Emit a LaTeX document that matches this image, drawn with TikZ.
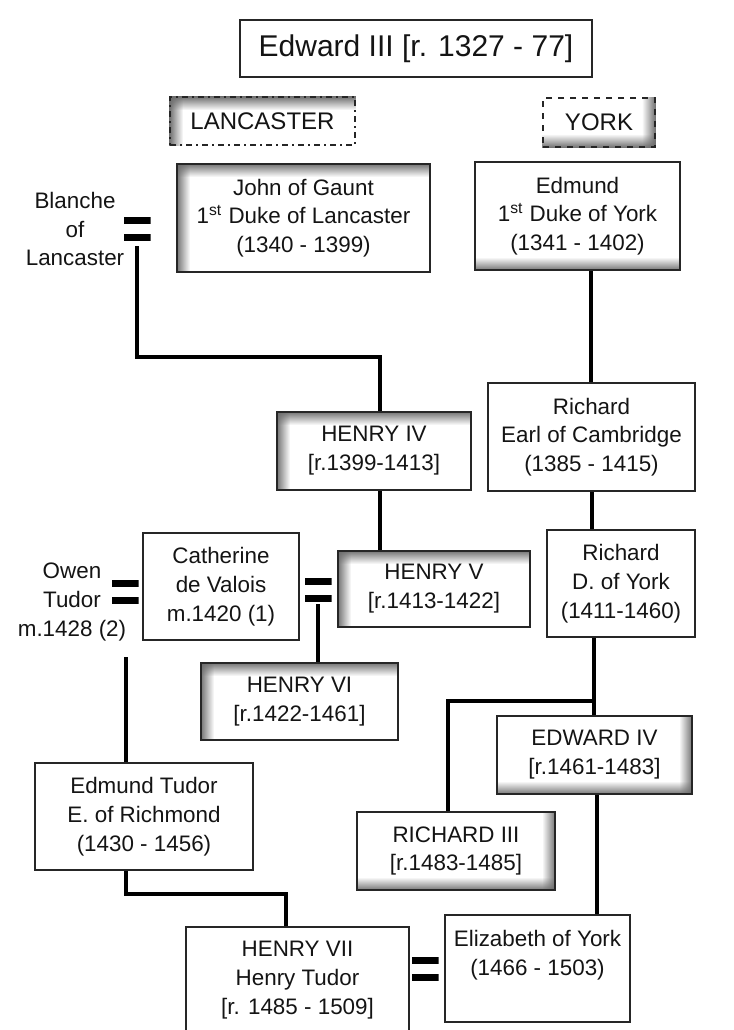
\documentclass[tikz,border=0pt]{standalone}
\usepackage{fontspec}
\setmainfont{Liberation Sans}
\usetikzlibrary{calc,fadings}
\pgfdeclarelayer{bg}
\pgfsetlayers{bg,main}
\definecolor{shd}{gray}{0.42}
\definecolor{txt}{gray}{0.08}
\tikzfading[name=fadeR, left color=transparent!0, right color=transparent!100]
\tikzfading[name=fadeL, right color=transparent!0, left color=transparent!100]
\tikzfading[name=fadeD, top color=transparent!0, bottom color=transparent!100]
\tikzfading[name=fadeU, bottom color=transparent!0, top color=transparent!100]
\tikzset{
  box/.style={draw=black!85, line width=1pt, align=center, inner sep=0pt, text=txt,
    font=\fontsize{11.2}{14.4}\selectfont},
  lbl/.style={align=center, inner sep=0pt, text=txt, font=\fontsize{11.2}{14.4}\selectfont},
  conn/.style={line width=1.75pt, black},
  eqsign/.style={minimum width=13.5pt, minimum height=12pt, inner sep=0pt,
    path picture={
      \fill[black] (path picture bounding box.north west) rectangle ([yshift=-3.5pt]path picture bounding box.north east);
      \fill[black] ([yshift=3.5pt]path picture bounding box.south west) rectangle (path picture bounding box.south east);}}
}
\newcommand\bx[7]{\node[box,#6, minimum width={(#4-#2)*0.5pt}, minimum height={(#5-#3)*0.5pt}] (#1) at ({(#2+#4)/2},{(#3+#5)/2}) {#7};}
\newcommand\shL[1]{\fill[shd, path fading=fadeR] (#1.south west) rectangle ([xshift=7pt]#1.north west);}
\newcommand\shR[1]{\fill[shd, path fading=fadeL] (#1.south east) rectangle ([xshift=-7pt]#1.north east);}
\newcommand\shT[1]{\fill[shd, path fading=fadeD] (#1.north west) rectangle ([yshift=-7pt]#1.north east);}
\newcommand\shB[1]{\fill[shd, path fading=fadeU] (#1.south west) rectangle ([yshift=7pt]#1.south east);}
\begin{document}
\begin{tikzpicture}[x=0.5pt,y=-0.5pt]
\useasboundingbox (0,0) rectangle (734,1030);
\clip (0,0) rectangle (734,1030);

% boxes
\bx{e3}{240}{20}{592}{77}{font=\fontsize{15}{18}\selectfont}{Edward III [r. 1327 - 77]}
\bx{lanc}{170}{97}{355}{145}{dash dot, line width=0.9pt, font=\fontsize{12}{14}\selectfont}{LANCASTER}
\bx{york}{543}{98}{655}{147}{dashed, line width=0.9pt, font=\fontsize{12}{14}\selectfont}{YORK}
\bx{gaunt}{177}{164}{430}{272}{}{John of Gaunt\\1\textsuperscript{st} Duke of Lancaster\\(1340 - 1399)}
\bx{edm}{475}{162}{680}{270}{}{Edmund\\1\textsuperscript{st} Duke of York\\(1341 - 1402)}
\bx{rec}{488}{383}{695}{491}{}{Richard\\Earl of Cambridge\\(1385 - 1415)}
\bx{h4}{277}{412}{471}{490}{}{HENRY IV\\{}[r.1399-1413]}
\bx{rdy}{547}{530}{695}{637}{}{Richard\\D. of York\\(1411-1460)}
\bx{cath}{143}{533}{299}{640}{}{Catherine\\de Valois\\m.1420 (1)}
\bx{h5}{338}{551}{530}{627}{}{HENRY V\\{}[r.1413-1422]}
\bx{h6}{201}{663}{398}{740}{}{HENRY VI\\{}[r.1422-1461]}
\bx{e4}{497}{716}{692}{794}{}{EDWARD IV\\{}[r.1461-1483]}
\bx{r3}{357}{812}{555}{890}{}{RICHARD III\\{}[r.1483-1485]}
\bx{etu}{35}{763}{253}{870}{}{Edmund Tudor\\E. of Richmond\\(1430 - 1456)}
\bx{h7}{186}{927}{409}{1040}{}{}
\bx{eliz}{445}{915}{630}{1022}{}{}
\node[lbl] (h7t) at (297.5,980) {HENRY VII\\Henry Tudor\\{}[r. 1485 - 1509]};
\node[lbl] (elizt) at (537.5,955) {Elizabeth of York\\(1466 - 1503)};

% inner shadows
\begin{pgfonlayer}{bg}
\shL{lanc}\shT{lanc}
\shR{york}\shB{york}
\shL{gaunt}\shT{gaunt}
\shB{edm}
\shL{h4}\shT{h4}
\shL{h5}\shT{h5}
\shL{h6}\shT{h6}
\shR{e4}\shB{e4}
\shB{r3}\shR{r3}
\end{pgfonlayer}

% side labels and marriage signs
\node[lbl] (blanche) at (75,229) {Blanche\\of\\Lancaster};
\node[lbl] (owen) at (72,602) {Owen\\Tudor\\m.1428 (2)};
\node[eqsign] (eqbl) at (137,229) {};
\node[eqsign] (eqow) at (125,592) {};
\node[eqsign] (eqch) at (318,590) {};
\node[eqsign] (eqhe) at (425,969) {};

% connectors
\coordinate (jA) at (137,357);
\coordinate (jB) at (380,357);
\draw[conn] ([yshift=-2.5pt]eqbl.south) -- (jA) -- (jB) -- (jB |- h4.north);
\draw[conn] (h4.south -| jB) -- (h5.north -| jB);
\coordinate (xE) at (591,0);
\draw[conn] (edm.south -| xE) -- (rec.north -| xE);
\coordinate (xE2) at (592,0);
\draw[conn] (rec.south -| xE2) -- (rdy.north -| xE2);
\coordinate (xY) at (594,0);
\coordinate (jY) at (594,701);
\coordinate (xR3) at (448,0);
\draw[conn] (rdy.south -| xY) -- (e4.north -| xY);
\draw[conn] (jY) -| (r3.north -| xR3);
\coordinate (xE4) at (597,0);
\draw[conn] (e4.south -| xE4) -- (eliz.north -| xE4);
\draw[conn] ([yshift=-1pt]eqch.south) -- (h6.north -| eqch.south);
\coordinate (owtop) at (126,657);
\draw[conn] (owtop) -- (etu.north -| owtop);
\coordinate (jT) at (126,894);
\coordinate (xH7) at (286,0);
\draw[conn] (etu.south -| jT) -- (jT) -| (h7.north -| xH7);
\end{tikzpicture}
\end{document}
